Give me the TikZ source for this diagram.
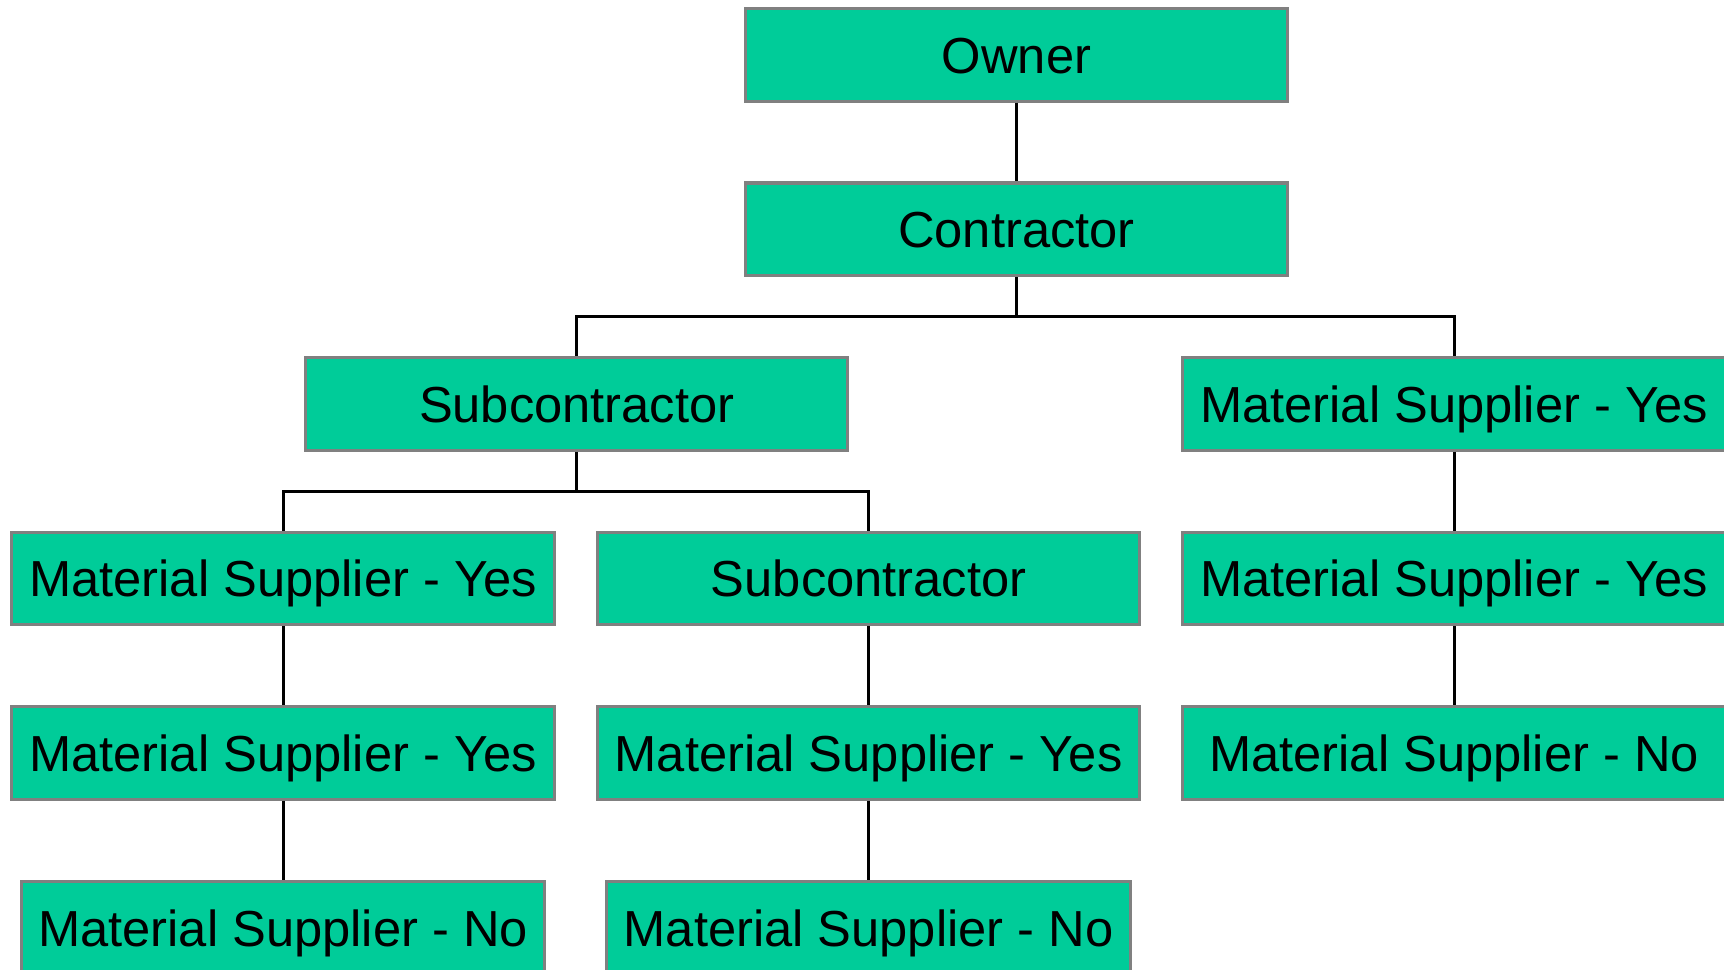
\documentclass[tikz,border=0pt]{standalone}
\usepackage{fontspec}
\setmainfont{Liberation Sans}
\definecolor{boxgreen}{RGB}{0,204,153}
\definecolor{boxborder}{RGB}{128,128,128}
\begin{document}
\begin{tikzpicture}[x=0.01cm,y=-0.01cm,
  orgbox/.style={draw=boxborder,fill=boxgreen,line width=0.8pt,minimum width=4.93cm,minimum height=0.84cm,inner sep=0pt,text height=0.335cm,text depth=0pt,font=\fontsize{13.1pt}{15pt}\selectfont,text=black},
  narrowbox/.style={orgbox,minimum width=4.76cm},
  link/.style={draw=black,line width=0.8pt}]
\useasboundingbox (0,0) rectangle (1568,882);
\node[orgbox] (owner) at (924.5,50) {Owner};
\node[orgbox] (con) at (924.5,208.5) {Contractor};
\node[orgbox] (sub1) at (524.5,367.5) {Subcontractor};
\node[orgbox] (r1) at (1322.5,367.5) {Material Supplier - Yes};
\node[orgbox] (l1) at (257.5,526) {Material Supplier - Yes};
\node[orgbox] (sub2) at (790,526) {Subcontractor};
\node[orgbox] (r2) at (1322.5,526) {Material Supplier - Yes};
\node[orgbox] (l2) at (257.5,685) {Material Supplier - Yes};
\node[orgbox] (m2) at (790,685) {Material Supplier - Yes};
\node[orgbox] (r3) at (1322.5,685) {Material Supplier - No};
\node[narrowbox] (l3) at (257.5,844) {Material Supplier - No};
\node[narrowbox] (m3) at (790,844) {Material Supplier - No};
\coordinate (j1) at (924.5,288);
\coordinate (j2) at (524.5,447);
\draw[link] (owner.south) -- (con.north);
\draw[link] (con.south) -- (j1) -| (sub1.north);
\draw[link] (j1) -| (r1.north);
\draw[link] (sub1.south) -- (j2) -| (l1.north);
\draw[link] (j2) -| (sub2.north);
\draw[link] (r1.south) -- (r2.north);
\draw[link] (r2.south) -- (r3.north);
\draw[link] (l1.south) -- (l2.north);
\draw[link] (l2.south) -- (l3.north);
\draw[link] (sub2.south) -- (m2.north);
\draw[link] (m2.south) -- (m3.north);
\end{tikzpicture}
\end{document}
